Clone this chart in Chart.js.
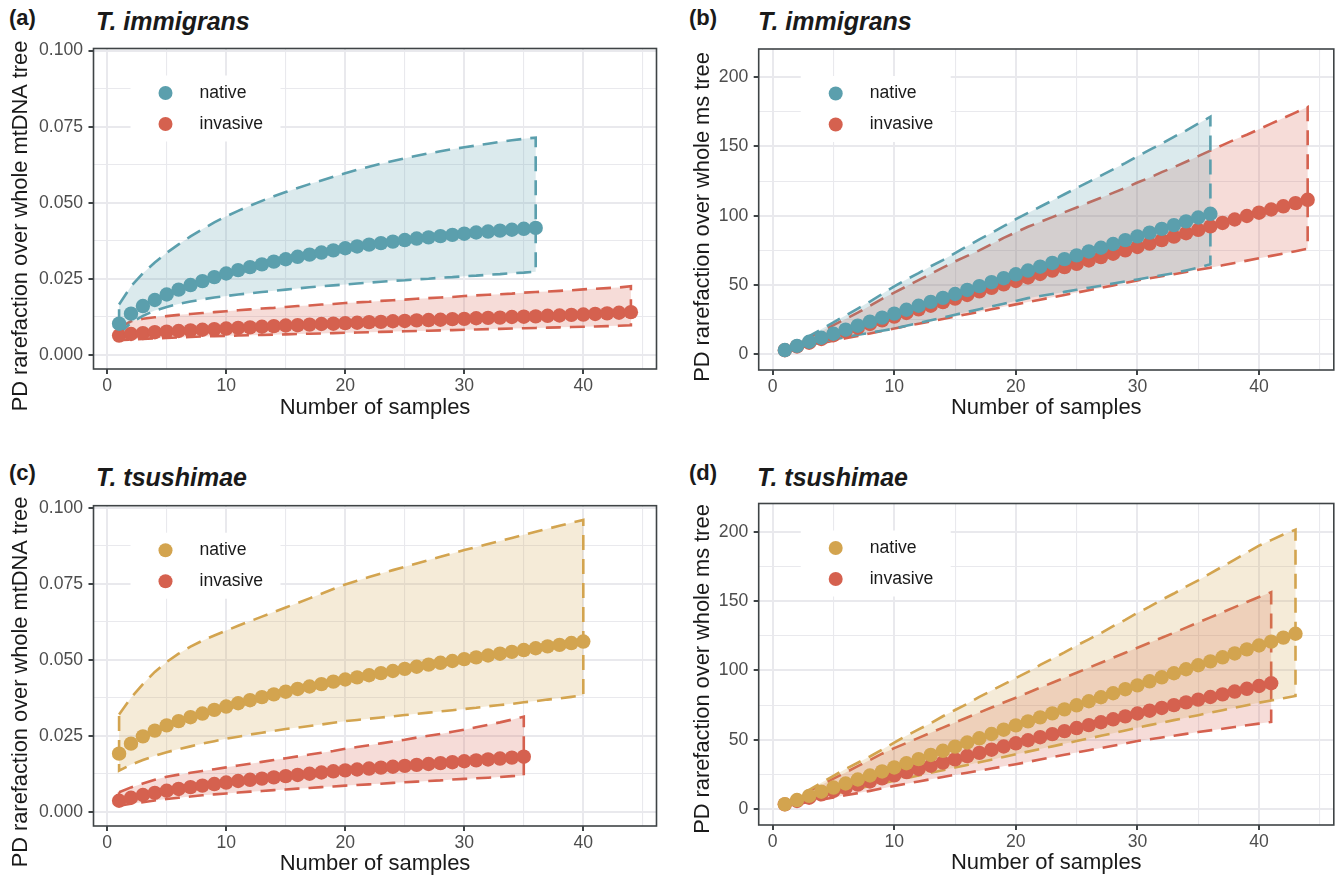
<!DOCTYPE html>
<html>
<head>
<meta charset="utf-8">
<script src="https://cdn.jsdelivr.net/npm/chart.js@4.4.0/dist/chart.umd.min.js"></script>
<style>
  body { margin: 0; background: #fff; width: 1341px; height: 879px; overflow: hidden; position: relative; font-family: 'Liberation Sans', Arial, sans-serif; }
  .panel { position: absolute; }
  .tag { position: absolute; font-weight: bold; font-size: 22px; line-height: 24px; color: #1a1a1a; }
  .title { position: absolute; font-weight: bold; font-style: italic; font-size: 25px; line-height: 26px; color: #1a1a1a; }
</style>
</head>
<body>
<div class="tag" style="left:9px;top:6px">(a)</div>
<div class="title" style="left:96px;top:8px">T. immigrans</div>
<div class="tag" style="left:689px;top:6px">(b)</div>
<div class="title" style="left:758px;top:8px">T. immigrans</div>
<div class="tag" style="left:9px;top:461px">(c)</div>
<div class="title" style="left:96px;top:464px">T. tsushimae</div>
<div class="tag" style="left:689px;top:461px">(d)</div>
<div class="title" style="left:757px;top:464px">T. tsushimae</div>

<canvas id="chartA" class="panel" width="665" height="422" style="left:0;top:0"></canvas>
<canvas id="chartB" class="panel" width="676" height="422" style="left:665px;top:0"></canvas>
<canvas id="chartC" class="panel" width="665" height="422" style="left:0;top:457px"></canvas>
<canvas id="chartD" class="panel" width="676" height="422" style="left:665px;top:457px"></canvas>

<script>
// one value per sample count, starting at 1 sample

// (a) T. immigrans, mtDNA
const immNativeMt   = [0.0102,0.0135,0.0160,0.0180,0.0198,0.0214,0.0229,0.0242,0.0255,0.0267,0.0278,0.0288,0.0297,0.0306,0.0314,0.0322,0.0329,0.0336,0.0343,0.0350,0.0356,0.0362,0.0367,0.0372,0.0377,0.0382,0.0386,0.0390,0.0394,0.0398,0.0402,0.0405,0.0408,0.0411,0.0414,0.0417];
const immNativeMtHi = [0.0165,0.0225,0.0268,0.0303,0.0335,0.0363,0.0389,0.0413,0.0435,0.0455,0.0473,0.0490,0.0506,0.0521,0.0535,0.0548,0.0561,0.0573,0.0585,0.0597,0.0608,0.0618,0.0628,0.0637,0.0646,0.0654,0.0662,0.0669,0.0676,0.0682,0.0688,0.0694,0.0700,0.0705,0.0710,0.0714];
const immNativeMtLo = [0.0068,0.0105,0.0128,0.0145,0.0157,0.0167,0.0175,0.0182,0.0188,0.0193,0.0198,0.0202,0.0206,0.0210,0.0214,0.0218,0.0222,0.0225,0.0228,0.0231,0.0234,0.0237,0.0240,0.0243,0.0245,0.0248,0.0250,0.0253,0.0255,0.0258,0.0260,0.0263,0.0265,0.0268,0.0270,0.0273];
const immInvMt   = [0.0063,0.0068,0.0071,0.0074,0.0076,0.0078,0.0080,0.0082,0.0084,0.0086,0.0088,0.0090,0.0092,0.0094,0.0096,0.0097,0.0099,0.0101,0.0102,0.0104,0.0105,0.0107,0.0108,0.0110,0.0111,0.0113,0.0114,0.0115,0.0117,0.0118,0.0120,0.0121,0.0122,0.0124,0.0125,0.0126,0.0128,0.0129,0.0131,0.0132,0.0134,0.0136,0.0138,0.0140];
const immInvMtHi = [0.0088,0.0110,0.0118,0.0123,0.0127,0.0131,0.0134,0.0137,0.0140,0.0143,0.0146,0.0149,0.0152,0.0154,0.0157,0.0160,0.0162,0.0165,0.0167,0.0170,0.0172,0.0174,0.0177,0.0179,0.0181,0.0184,0.0186,0.0188,0.0190,0.0193,0.0195,0.0197,0.0199,0.0201,0.0204,0.0206,0.0208,0.0210,0.0212,0.0215,0.0217,0.0219,0.0221,0.0225];
const immInvMtLo = [0.0048,0.0050,0.0052,0.0054,0.0055,0.0057,0.0058,0.0060,0.0061,0.0062,0.0063,0.0064,0.0065,0.0066,0.0067,0.0068,0.0069,0.0070,0.0071,0.0072,0.0073,0.0074,0.0075,0.0076,0.0077,0.0078,0.0079,0.0080,0.0081,0.0082,0.0083,0.0084,0.0085,0.0086,0.0087,0.0088,0.0089,0.0090,0.0091,0.0092,0.0093,0.0094,0.0095,0.0097];

// (b) T. immigrans, ms
const immNativeMs   = [3.0,6.0,9.0,11.9,14.8,17.7,20.6,23.5,26.4,29.3,32.1,35.0,37.8,40.7,43.5,46.4,49.2,52.0,54.9,57.7,60.4,63.2,65.9,68.7,71.4,74.2,76.9,79.6,82.4,85.1,87.8,90.5,93.2,95.9,98.7,101.4];
const immNativeMsHi = [3.5,8.5,13.0,18.0,23.0,28.0,33.0,38.0,43.5,49.0,54.0,58.5,63.5,68.0,73.0,78.0,83.0,87.5,92.5,97.5,102.0,106.5,111.0,115.5,120.0,124.5,129.0,133.5,138.0,143.0,147.5,152.0,157.0,161.5,166.5,171.5];
const immNativeMsLo = [2.5,4.5,6.5,8.5,10.5,12.5,14.0,15.5,17.0,18.5,20.5,22.5,24.5,26.5,28.5,30.5,32.5,34.5,36.5,38.5,40.5,42.0,43.5,45.0,46.5,48.0,49.5,51.0,52.5,54.0,55.5,57.0,58.5,60.5,62.5,65.0];
const immInvMs   = [2.9,5.6,8.3,11.0,13.7,16.4,19.1,21.8,24.5,27.2,29.8,32.4,35.0,37.6,40.2,42.8,45.4,47.9,50.4,52.9,55.4,57.9,60.4,62.9,65.3,67.7,70.1,72.6,75.0,77.4,79.9,82.4,84.9,87.4,89.8,92.3,94.8,97.3,99.8,102.2,104.5,106.8,109.1,111.5];
const immInvMsHi = [3.5,7.5,12.0,16.5,21.0,25.5,30.0,35.0,40.0,44.5,49.0,53.5,58.0,62.5,67.0,71.0,75.0,79.5,84.0,88.0,92.0,95.5,99.0,102.5,106.0,109.5,113.0,116.5,120.0,124.0,127.5,131.5,135.0,139.0,143.0,147.0,151.0,155.0,158.5,162.5,166.5,170.5,174.5,178.5];
const immInvMsLo = [2.5,4.3,6.1,8.0,9.8,11.5,13.2,15.0,16.8,18.5,20.3,22.0,23.7,25.4,27.2,28.9,30.6,32.4,34.2,36.0,37.7,39.4,41.1,42.8,44.5,46.2,47.9,49.7,51.5,53.3,54.8,56.3,57.8,59.4,61.0,62.5,64.2,65.9,67.6,69.3,71.0,72.7,74.4,76.2];

// (c) T. tsushimae, mtDNA
const tsuNativeMt   = [0.0191,0.0224,0.0248,0.0267,0.0284,0.0298,0.0311,0.0323,0.0335,0.0346,0.0357,0.0367,0.0377,0.0386,0.0395,0.0404,0.0412,0.0420,0.0428,0.0435,0.0442,0.0449,0.0456,0.0463,0.0470,0.0477,0.0484,0.0490,0.0496,0.0502,0.0508,0.0514,0.0520,0.0526,0.0532,0.0538,0.0544,0.0549,0.0555,0.0560];
const tsuNativeMtHi = [0.0320,0.0375,0.0420,0.0460,0.0493,0.0520,0.0543,0.0563,0.0580,0.0596,0.0612,0.0627,0.0642,0.0657,0.0672,0.0687,0.0702,0.0717,0.0733,0.0748,0.0760,0.0772,0.0784,0.0795,0.0806,0.0817,0.0828,0.0839,0.0850,0.0861,0.0871,0.0881,0.0891,0.0901,0.0911,0.0921,0.0931,0.0941,0.0951,0.0960];
const tsuNativeMtLo = [0.0135,0.0155,0.0170,0.0184,0.0196,0.0206,0.0215,0.0224,0.0232,0.0240,0.0247,0.0254,0.0260,0.0266,0.0272,0.0277,0.0282,0.0287,0.0293,0.0298,0.0302,0.0306,0.0310,0.0314,0.0318,0.0322,0.0326,0.0330,0.0334,0.0338,0.0342,0.0347,0.0351,0.0355,0.0360,0.0364,0.0369,0.0373,0.0378,0.0383];
const tsuInvMt   = [0.0036,0.0046,0.0055,0.0062,0.0069,0.0075,0.0081,0.0086,0.0091,0.0096,0.0101,0.0105,0.0109,0.0113,0.0117,0.0121,0.0125,0.0129,0.0133,0.0136,0.0139,0.0142,0.0145,0.0148,0.0151,0.0154,0.0157,0.0160,0.0163,0.0166,0.0169,0.0172,0.0175,0.0178,0.0181];
const tsuInvMtHi = [0.0064,0.0080,0.0093,0.0105,0.0115,0.0122,0.0128,0.0134,0.0140,0.0146,0.0152,0.0158,0.0164,0.0170,0.0176,0.0182,0.0188,0.0194,0.0200,0.0207,0.0213,0.0219,0.0225,0.0231,0.0237,0.0244,0.0250,0.0256,0.0263,0.0270,0.0278,0.0286,0.0294,0.0303,0.0313];
const tsuInvMtLo = [0.0020,0.0026,0.0031,0.0037,0.0042,0.0046,0.0050,0.0054,0.0057,0.0060,0.0063,0.0066,0.0068,0.0071,0.0073,0.0076,0.0078,0.0081,0.0083,0.0086,0.0088,0.0090,0.0092,0.0095,0.0097,0.0099,0.0101,0.0103,0.0106,0.0108,0.0110,0.0112,0.0114,0.0117,0.0119];

// (d) T. tsushimae, ms
const tsuNativeMs   = [3.6,6.6,9.6,12.6,15.6,18.5,21.4,24.3,27.2,30.1,33.1,36.1,39.1,42.1,45.1,48.1,51.1,54.2,57.3,60.4,63.3,66.2,69.1,72.0,74.9,77.8,80.7,83.6,86.5,89.3,92.2,95.1,98.0,100.9,103.8,106.6,109.5,112.3,115.2,118.0,120.8,123.7,126.5];
const tsuNativeMsHi = [3.8,9.0,14.0,19.0,24.0,29.0,33.5,38.0,43.0,48.0,53.0,57.5,62.0,67.0,71.5,76.0,81.0,85.5,90.0,94.5,99.0,104.0,108.5,113.0,118.0,122.5,127.0,132.0,136.5,141.5,146.0,151.0,155.5,160.5,165.0,170.0,175.0,180.0,185.0,190.0,194.0,198.0,201.5];
const tsuNativeMsLo = [2.8,4.8,6.8,8.9,11.0,12.9,14.8,16.7,18.6,20.5,22.4,24.3,26.2,28.1,30.0,31.9,33.8,35.7,37.6,39.6,41.5,43.4,45.3,47.2,49.1,51.0,52.9,54.8,56.8,58.8,60.6,62.4,64.2,66.0,67.8,69.6,71.4,73.2,75.0,76.8,78.4,80.0,81.6];
const tsuInvMs   = [3.5,5.9,8.3,10.7,13.1,15.4,17.7,20.0,22.2,24.4,26.7,29.0,31.3,33.6,35.9,38.3,40.6,42.9,45.2,47.5,49.7,51.9,54.1,56.3,58.5,60.6,62.7,64.8,66.9,69.0,71.0,73.0,75.0,77.0,79.0,80.9,82.8,84.8,86.8,88.8,90.8];
const tsuInvMsHi = [4.0,8.5,13.0,17.5,22.0,26.5,31.0,35.5,40.0,44.0,47.7,51.4,55.1,58.8,62.5,66.1,69.7,73.3,76.9,80.4,84.0,87.6,91.2,94.8,98.4,102.0,105.6,109.2,112.8,116.4,120.0,123.6,127.2,130.9,134.6,138.3,142.0,145.7,149.4,153.0,156.5];
const tsuInvMsLo = [2.5,3.8,5.2,6.8,8.4,10.0,11.6,13.2,15.0,16.8,18.4,20.0,21.6,23.2,24.8,26.3,27.8,29.3,30.9,32.4,34.1,35.8,37.5,39.2,40.9,42.5,44.1,45.7,47.4,49.1,50.4,51.7,53.0,54.3,55.6,56.8,58.0,59.2,60.5,61.7,62.9];

const groupLabels = ['native', 'invasive'];
const xLabelEvery = 10;
const mtLabelEvery = 0.025;
const msLabelEvery = 50;

const teal = '#5b9fad';
const red = '#d5614f';
const gold = '#d3a44f';
const font = "'Liberation Sans', Arial, sans-serif";
const frameColor = '#3f4446';

function pts(arr) {
  return arr.map((v, i) => ({ x: i + 1, y: v }));
}

// closed outline: upper edge left to right, lower edge back, then close
function band(hi, lo) {
  const up = pts(hi);
  return up.concat(pts(lo).reverse(), [up[0]]);
}

function fade(hex, a) {
  const n = parseInt(hex.slice(1), 16);
  return `rgba(${n >> 16},${(n >> 8) & 255},${n & 255},${a})`;
}

function near(v, step) {
  return Math.abs(v / step - Math.round(v / step)) < 1e-6;
}

const legendBox = {
  id: 'legendBox',
  beforeDatasetsDraw(chart, args, o) {
    const { ctx, chartArea: a } = chart;
    const mx = a.left + o.dx;
    ctx.save();
    ctx.fillStyle = '#fff';
    ctx.fillRect(mx - 35, a.top + 27, 150, 66);
    o.items.forEach((it, i) => {
      const y = a.top + 44.5 + i * 31;
      ctx.fillStyle = it.color;
      ctx.beginPath();
      ctx.arc(mx, y, 7, 0, Math.PI * 2);
      ctx.fill();
      ctx.fillStyle = '#1a1a1a';
      ctx.font = '17.6px ' + font;
      ctx.textBaseline = 'middle';
      ctx.fillText(it.label, mx + 34, y);
    });
    ctx.restore();
  }
};

// panel border plus the y title (ggplot puts it a little below the panel middle here)
const frame = {
  id: 'frame',
  afterDraw(chart, args, o) {
    const { ctx, chartArea: a } = chart;
    ctx.save();
    ctx.strokeStyle = frameColor;
    ctx.lineWidth = 1.6;
    ctx.strokeRect(a.left, a.top, a.right - a.left, a.bottom - a.top);
    ctx.translate(o.cx, o.cy);
    ctx.rotate(-Math.PI / 2);
    ctx.fillStyle = '#1a1a1a';
    ctx.font = '21.8px ' + font;
    ctx.textAlign = 'center';
    ctx.textBaseline = 'middle';
    ctx.fillText(o.text, 0, 0);
    ctx.restore();
  }
};

function makePanel(id, p) {
  const canvas = document.getElementById(id);
  const W = canvas.width, H = canvas.height;
  const dataset = (data, color, isBand) => isBand ? {
    data, borderColor: color, borderWidth: 2.6, borderDash: [15, 9],
    backgroundColor: fade(color, 0.22), fill: 'shape',
    pointRadius: 0, tension: 0
  } : {
    data, showLine: false, pointRadius: 7.2, pointHoverRadius: 7.2,
    pointBackgroundColor: color, pointBorderWidth: 0
  };
  const gridOpts = (step) => ({
    color: '#e9e9ed',
    lineWidth: c => (c.tick && near(c.tick.value, step)) ? 2 : 1.1,
    drawTicks: true,
    tickLength: 5,
    tickWidth: 2,
    tickColor: c => (c.tick && near(c.tick.value, step)) ? frameColor : 'rgba(0,0,0,0)'
  });
  new Chart(canvas, {
    type: 'line',
    data: {
      datasets: [
        dataset(pts(p.native), p.nativeColor, false),
        dataset(pts(p.inv), red, false),
        dataset(band(p.nativeHi, p.nativeLo), p.nativeColor, true),
        dataset(band(p.invHi, p.invLo), red, true)
      ]
    },
    options: {
      responsive: false,
      devicePixelRatio: 1,
      animation: false,
      events: [],
      layout: { padding: { left: 0, top: p.area.top, right: W - p.area.right, bottom: 0 } },
      plugins: {
        legend: { display: false },
        tooltip: { enabled: false },
        legendBox: {
          dx: p.legendDx,
          items: [
            { label: groupLabels[0], color: p.nativeColor },
            { label: groupLabels[1], color: red }
          ]
        },
        frame: { text: p.yTitle, cx: p.yTitleX, cy: p.yTitleY }
      },
      scales: {
        x: {
          type: 'linear', min: -1.15, max: 46.15,
          afterFit: s => { s.height = H - p.area.bottom; },
          border: { display: false },
          grid: gridOpts(xLabelEvery),
          ticks: {
            stepSize: 5, includeBounds: false, autoSkip: false, maxRotation: 0,
            color: '#4d4d4d', font: { family: font, size: 17.6 }, padding: 2,
            callback: v => near(v, xLabelEvery) ? String(v) : ''
          },
          title: {
            display: true, text: 'Number of samples', color: '#1a1a1a',
            font: { family: font, size: 22 }, padding: { top: 0, bottom: p.xTitlePad }
          }
        },
        y: {
          type: 'linear', min: p.y.min, max: p.y.max,
          afterFit: s => { s.width = p.area.left; },
          border: { display: false },
          grid: gridOpts(p.y.every),
          ticks: {
            stepSize: p.y.every / 2, includeBounds: false, autoSkip: false,
            color: '#4d4d4d', font: { family: font, size: 17.6 }, padding: 5.5,
            callback: v => near(v, p.y.every) ? v.toFixed(p.y.digits) : ''
          }
        }
      }
    },
    plugins: [legendBox, frame]
  });
}

const mtAxis = { min: -0.0047, max: 0.1007, every: mtLabelEvery, digits: 3 };
const msAxis = { min: -11.4, max: 220.4, every: msLabelEvery, digits: 0 };

makePanel('chartA', {
  native: immNativeMt, nativeHi: immNativeMtHi, nativeLo: immNativeMtLo,
  inv: immInvMt, invHi: immInvMtHi, invLo: immInvMtLo, nativeColor: teal,
  y: mtAxis, yTitle: 'PD rarefaction over whole mtDNA tree', yTitleX: 21, yTitleY: 226,
  area: { left: 93.5, right: 656.5, top: 48.5, bottom: 369 },
  xTitlePad: 1, legendDx: 72
});
makePanel('chartB', {
  native: immNativeMs, nativeHi: immNativeMsHi, nativeLo: immNativeMsLo,
  inv: immInvMs, invHi: immInvMsHi, invLo: immInvMsLo, nativeColor: teal,
  y: msAxis, yTitle: 'PD rarefaction over whole ms tree', yTitleX: 38, yTitleY: 217,
  area: { left: 93.7, right: 671, top: 49, bottom: 370 },
  xTitlePad: 1, legendDx: 77
});
makePanel('chartC', {
  native: tsuNativeMt, nativeHi: tsuNativeMtHi, nativeLo: tsuNativeMtLo,
  inv: tsuInvMt, invHi: tsuInvMtHi, invLo: tsuInvMtLo, nativeColor: gold,
  y: mtAxis, yTitle: 'PD rarefaction over whole mtDNA tree', yTitleX: 21, yTitleY: 225,
  area: { left: 93.5, right: 656.5, top: 48.7, bottom: 369 },
  xTitlePad: 2, legendDx: 72
});
makePanel('chartD', {
  native: tsuNativeMs, nativeHi: tsuNativeMsHi, nativeLo: tsuNativeMsLo,
  inv: tsuInvMs, invHi: tsuInvMsHi, invLo: tsuInvMsLo, nativeColor: gold,
  y: msAxis, yTitle: 'PD rarefaction over whole ms tree', yTitleX: 38, yTitleY: 212,
  area: { left: 93.7, right: 672, top: 46.5, bottom: 368 },
  xTitlePad: 3, legendDx: 77
});
</script>
</body>
</html>
